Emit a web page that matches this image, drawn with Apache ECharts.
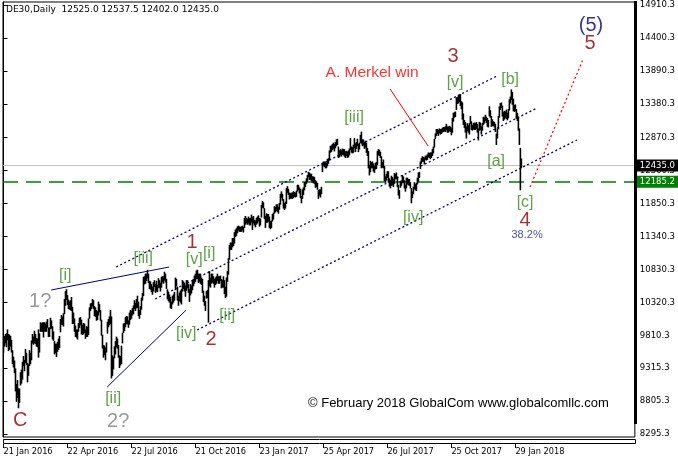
<!DOCTYPE html>
<html><head><meta charset="utf-8">
<script src="https://cdn.jsdelivr.net/npm/echarts@6/dist/echarts.min.js"></script>
<style>html,body{margin:0;padding:0;background:#fff}#c{width:678px;height:466px}</style>
</head><body><div id="c"></div>
<script>
// ---------- DATA ----------
const xTickIndex = [0, 64, 128, 192, 256, 320, 384, 448, 512];
const xTickLabels = ['21 Jan 2016', '22 Apr 2016', '22 Jul 2016', '21 Oct 2016', '23 Jan 2017', '25 Apr 2017', '26 Jul 2017', '25 Oct 2017', '29 Jan 2018'];
const yTicks = [14910.3, 14400.3, 13890.3, 13380.3, 12870.3, 12360.3, 11850.3, 11340.3, 10830.3, 10320.3, 9810.3, 9315.3, 8805.3, 8295.3];
const lastPrice = 12435.0;
const supportLevel = 12185.2;

// daily lows (DE30, 21 Jan 2016 .. Feb 2018)
const lows = [
9560,9650,9700,9640,9750,9580,9600,
9650,9560,9380,9330,9240,8960,8800,8860,8700,8780,9050,9080,9140,9350,9270,9400,9370,9100,9200,9350,9380,
9440,9700,9680,9700,9690,9650,9640,9480,9560,9880,9880,9880,9790,9880,9880,9880,9940,9800,9800,9920,9930,
9760,9740,9530,9550,9490,9570,9600,9630,9870,9990,9980,9960,10150,10280,10370,10290,10230,10220,10210,10200,10000,
10000,9880,9800,9790,9760,9880,9940,9980,9840,9830,9840,9860,9770,9800,9800,9830,10080,10200,10230,10270,10230,
10120,10110,10050,10060,10130,10180,10050,9820,9620,9480,9520,9440,9560,9850,9950,9980,10000,9160,9200,9300,9470,9530,
9640,9620,9480,9320,9360,9380,9700,9860,9890,9950,10000,9990,9940,9990,10060,10080,10130,10150,10230,10200,10240,
10250,10120,10080,10140,10220,10360,10430,10610,10620,10660,10700,10630,10540,10530,10490,10450,10500,10570,10480,10500,10490,10560,10550,
10500,10560,10640,10620,10670,10640,10540,10380,10350,10330,10240,10230,10300,10330,10360,10520,10580,10360,10280,10350,10330,10300,
10500,10540,10500,10420,10510,10550,10480,10340,10440,10470,10520,10580,10620,10650,10700,10690,10630,10650,10620,10600,
10480,10340,10280,10200,10390,10400,10020,10580,10560,10620,10640,10620,10560,10600,10620,10660,10620,10620,10660,10550,10560,10560,
10460,10400,10420,10650,10760,10990,11140,11140,11180,11200,11240,11340,11360,11400,11440,11420,11420,11420,11440,11410,
11480,11530,11550,11530,11550,11520,11520,11560,11450,11550,11520,11490,11530,11550,11580,11500,11520,11640,11790,11780,11620,11480,
11560,11560,11580,11480,11460,11480,11580,11610,11700,11720,11740,11730,11700,11760,11840,11940,11900,11780,11760,11780,
11850,12020,11990,11920,11930,11930,11930,11940,11960,11950,11960,12040,12060,12010,11940,11860,11930,11990,12060,12110,12160,12190,12260,
12220,12220,12200,12180,12170,12160,12100,12110,12070,11930,11980,11950,12000,12340,12440,12420,12400,12400,
12430,12470,12520,12640,12650,12680,12700,12660,12710,12740,12760,12560,12570,12600,12580,12610,12600,12580,12560,12590,12560,12570,
12600,12680,12640,12630,12640,12720,12650,12700,12740,12650,12690,12790,12780,12740,12750,12700,12720,12640,12590,12400,12290,
12340,12400,12400,12350,12330,12380,12390,12450,12600,12590,12560,12400,12410,12400,12200,12180,12210,12250,12180,12120,12090,
12130,12140,12110,12160,12230,12230,12110,11980,11930,12100,12130,12170,12170,12090,12040,12090,12150,12140,12130,12090,11860,11940,12000,
12080,12060,12050,12150,12190,12250,12390,12470,12500,12500,12460,12530,12520,12530,12570,12560,12540,12560,12590,12630,12720,
12850,12900,12930,12900,12940,12920,12930,12950,12960,12970,12960,12990,12950,12950,12970,12960,12910,12950,13120,13180,13190,
13300,13390,13400,13420,13360,13310,13150,13070,13020,12950,12860,12970,12950,12920,13080,12990,12980,13000,12990,12990,13010,12950,
12830,12980,12990,12920,12980,13070,13090,13130,13100,13040,13030,13200,13180,13040,13050,13050,13030,12960,
12760,12860,13000,13180,13300,13330,13200,13130,13150,13180,13160,13140,13170,13290,13400,13450,13380,13280,13270,13280,13160,13130,
12980,12760,12060,12402
];
// daily highs
const highs = [
9760,9800,9830,9840,9900,9830,9820,
9800,9740,9580,9480,9420,9300,9060,9120,8990,8990,9240,9280,9400,9490,9430,9600,9540,9380,9360,9580,9540,
9730,9830,9790,9880,9830,9770,9760,9900,9840,10010,9990,10010,10010,10010,9990,10020,10060,9930,9930,10080,10040,
9950,9870,9720,9680,9680,9710,9760,9800,10060,10120,10100,10150,10370,10490,10520,10430,10360,10330,10350,10400,10250,
10160,10070,9960,9900,9900,10000,10080,10090,10050,9970,10000,9990,9900,9950,9940,10070,10240,10300,10310,10370,10350,
10260,10240,10200,10180,10330,10290,10200,10050,9820,9660,9650,9620,9700,10020,10060,10100,10200,10100,9500,9480,9640,9720,
9790,9760,9660,9500,9490,9650,9850,9990,10000,10090,10110,10100,10040,10160,10200,10190,10230,10270,10350,10310,10370,
10420,10330,10200,10260,10390,10460,10710,10720,10760,10760,10820,10760,10650,10640,10600,10560,10630,10660,10600,10650,10590,10690,10660,
10620,10710,10720,10720,10790,10760,10680,10520,10480,10440,10400,10330,10420,10440,10480,10700,10680,10560,10420,10470,10500,10520,
10660,10640,10620,10580,10660,10660,10600,10520,10600,10580,10660,10680,10730,10760,10810,10820,10760,10760,10760,10700,
10680,10500,10420,10340,10490,10510,10660,10800,10700,10760,10760,10720,10680,10700,10720,10760,10720,10720,10730,10680,10660,10720,
10660,10560,10700,10800,11000,11200,11240,11240,11310,11310,11400,11440,11460,11490,11500,11490,11480,11490,11500,11480,
11620,11650,11620,11610,11640,11620,11620,11670,11630,11650,11590,11580,11620,11640,11660,11620,11610,11820,11880,11860,11770,11650,
11690,11680,11680,11640,11570,11580,11680,11700,11800,11790,11830,11830,11790,11850,11990,12030,11990,11910,11850,11870,
12080,12110,12070,12010,12000,12010,12010,12030,12020,12010,12040,12130,12130,12090,12070,11960,12060,12090,12170,12180,12230,12280,12330,
12320,12300,12300,12260,12260,12250,12200,12180,12160,12050,12060,12060,12100,12470,12490,12490,12480,12470,
12530,12540,12660,12730,12740,12760,12780,12760,12790,12830,12840,12720,12660,12680,12660,12690,12680,12680,12640,12650,12640,12660,
12690,12850,12720,12710,12750,12850,12770,12790,12840,12760,12780,12900,12950,12830,12830,12790,12810,12780,12700,12650,12440,
12500,12480,12490,12460,12420,12470,12480,12650,12680,12670,12640,12570,12480,12520,12420,12260,12300,12340,12340,12230,12200,
12270,12250,12210,12310,12300,12320,12260,12130,12050,12190,12200,12280,12260,12200,12130,12240,12240,12220,12220,12170,12080,12030,12100,
12170,12140,12160,12240,12320,12330,12490,12540,12570,12560,12550,12580,12580,12600,12630,12620,12630,12630,12680,12720,12840,
12920,12990,12990,12980,13000,12990,12990,13010,13020,13020,13030,13070,13030,13030,13040,13030,13010,13160,13240,13250,13260,
13480,13480,13510,13520,13530,13420,13400,13230,13130,13100,13030,13080,13050,13080,13190,13110,13050,13080,13090,13080,13100,13070,
13000,13100,13090,13030,13080,13180,13170,13210,13180,13160,13130,13340,13280,13190,13140,13110,13100,13070,
12920,13000,13190,13340,13390,13400,13350,13250,13270,13260,13290,13240,13300,13450,13490,13600,13560,13460,13360,13370,13300,13240,
13180,13000,12700,12537.5
];

// wave labels: [bar index, price, text, kind]
const waveLabels = [
  [61.7, 10731, '[i]', 'minor'],
  [139.7, 10994, '[iii]', 'minor'],
  [188.7, 11256, '1', 'major'],
  [190.7, 10978, '[v]', 'minor'],
  [205.7, 11071, '[i]', 'minor'],
  [36.7, 10346, '1?', 'alt'],
  [16.7, 8511, 'C', 'major'],
  [109.7, 8835, '[ii]', 'minor'],
  [114.7, 8496, '2?', 'alt'],
  [182.7, 9837, '[iv]', 'minor'],
  [207.7, 9760, '2', 'major'],
  [223.7, 10115, '[ii]', 'minor'],
  [350.7, 13168, '[iii]', 'minor'],
  [449.7, 14109, '3', 'major'],
  [451.7, 13708, '[v]', 'minor'],
  [506.7, 13754, '[b]', 'minor'],
  [492.7, 12489, '[a]', 'minor'],
  [409.7, 11626, '[iv]', 'minor'],
  [521.7, 11857, '[c]', 'minor'],
  [521.7, 11595, '4', 'major'],
  [587.7, 14602, '(5)', 'cycle'],
  [586.7, 14324, '5', 'major'],
  [368.7, 13862, 'A. Merkel win', 'news'],
  [523.7, 11364, '38.2%', 'ratio']
];

// trend / channel lines: [[idx, price], [idx, price], kind]
const trendLines = [
  [[47.7, 10516], [165.7, 10870], 'solid'],
  [[103.7, 9020], [182.7, 10207], 'solid'],
  [[112.7, 10870], [493.7, 13816], 'channel'],
  [[151.7, 10377], [533.7, 13322], 'channel'],
  [[193.7, 9899], [573.7, 12829], 'channel'],
  [[526.7, 12104], [579.7, 14078], 'target'],
  [[386.7, 13615], [424.7, 12736], 'pointer']
];

const titleText = 'DE30,Daily  12525.0 12537.5 12402.0 12435.0';
const copyrightText = '\u00A9 February 2018 GlobalCom www.globalcomllc.com';

// ---------- STYLES ----------
const labelStyles = {
  minor: { color: '#348a1a', fontSize: 16 },
  major: { color: '#8b0000', fontSize: 20 },
  alt:   { color: '#808080', fontSize: 20 },
  cycle: { color: '#00007a', fontSize: 20 },
  news:  { color: '#ff0000', fontSize: 15.5 },
  ratio: { color: '#222288', fontSize: 11 }
};
const lineStyles = {
  solid:   { color: '#000080', width: 1, type: 'solid', opacity: 1 },
  channel: { color: '#00006e', width: 1.3, type: [2, 2.5], opacity: 1 },
  target:  { color: '#ff0000', width: 1.2, type: [2, 2.5], opacity: 1 },
  pointer: { color: '#ff0000', width: 1, type: 'solid', opacity: 1 }
};
const axisFont = 'DejaVu Sans';

const chart = echarts.init(document.getElementById('c'), null, { renderer: 'canvas' });

const markData = [
  { yAxis: lastPrice, lineStyle: { color: '#c0c0c0', width: 1, type: 'solid', opacity: 1 },
    label: { show: true, position: 'end', distance: 2, formatter: lastPrice.toFixed(1),
      color: '#fff', backgroundColor: '#000', padding: [2, 3, 1, 3], fontFamily: axisFont, fontSize: 8.5 } },
  { yAxis: supportLevel, lineStyle: { color: '#008000', width: 1.6, type: [15, 8], opacity: 1 },
    label: { show: true, position: 'end', distance: 2, formatter: supportLevel.toFixed(1),
      color: '#fff', backgroundColor: '#008000', padding: [2, 3, 1, 3], fontFamily: axisFont, fontSize: 8.5 } }
];
trendLines.forEach(t => {
  markData.push([
    { coord: t[0], lineStyle: lineStyles[t[2]], label: { show: false } },
    { coord: t[1] }
  ]);
});

chart.setOption({
  animation: false,
  backgroundColor: '#fff',
  grid: { left: 3, top: 2, right: 43, bottom: 29, show: true, borderColor: '#000', borderWidth: 1, backgroundColor: '#fff' },
  xAxis: {
    type: 'value', min: -0.5, max: 631.5, offset: 7,
    axisLine: { show: false }, splitLine: { show: false },
    axisTick: { show: true, customValues: xTickIndex, length: 4, lineStyle: { color: '#000' } },
    axisLabel: { show: true, customValues: xTickIndex, align: 'left', margin: 4,
      formatter: v => xTickLabels[xTickIndex.indexOf(Math.round(v))] || '',
      fontFamily: axisFont, fontSize: 8.2, color: '#000' }
  },
  yAxis: {
    type: 'value', position: 'right', min: 8249.1, max: 14956.6,
    axisLine: { show: true, lineStyle: { color: '#000', width: 1 } }, splitLine: { show: false },
    axisTick: { show: true, customValues: yTicks, length: 4, lineStyle: { color: '#000' } },
    axisLabel: { show: true, customValues: yTicks, margin: 5, formatter: v => v.toFixed(1),
      fontFamily: axisFont, fontSize: 8.5, color: '#000' }
  },
  series: [
    {
      type: 'custom', silent: true, clip: true, z: 3,
      data: lows.map((l, i) => [i, l, highs[i]]),
      encode: { x: 0, y: [1, 2] },
      renderItem: (params, api) => {
        const a = api.coord([api.value(0), api.value(1)]);
        const b = api.coord([api.value(0), api.value(2)]);
        return { type: 'line', shape: { x1: a[0], y1: a[1] + 0.5, x2: b[0], y2: b[1] - 0.5 },
          style: { stroke: '#000', lineWidth: 1.6 } };
      },
      markLine: { symbol: 'none', silent: true, animation: false, z: 2, data: markData }
    },
    {
      type: 'scatter', silent: true, symbolSize: 0, z: 5,
      data: waveLabels.map(w => ({
        value: [w[0], w[1]],
        label: Object.assign({ show: true, position: 'inside', formatter: w[2], fontFamily: 'Liberation Sans' }, labelStyles[w[3]])
      }))
    }
  ],
  graphic: [
    { type: 'text', left: 6, top: 5, z: 10, style: { text: titleText, font: '9px "DejaVu Sans"', fill: '#000' } },
    { type: 'text', left: 308, top: 397, z: 10, style: { text: copyrightText, font: '13px "Liberation Sans"', fill: '#000' } },
    { type: 'rect', z: 10, shape: { x: 3.5, y: 439.5, width: 632, height: 4 }, style: { fill: '#fff', stroke: '#000', lineWidth: 1 } },
    { type: 'rect', z: 10, shape: { x: 634, y: 1, width: 3, height: 423 }, style: { fill: '#000' } }
  ]
});
</script>
</body></html>
